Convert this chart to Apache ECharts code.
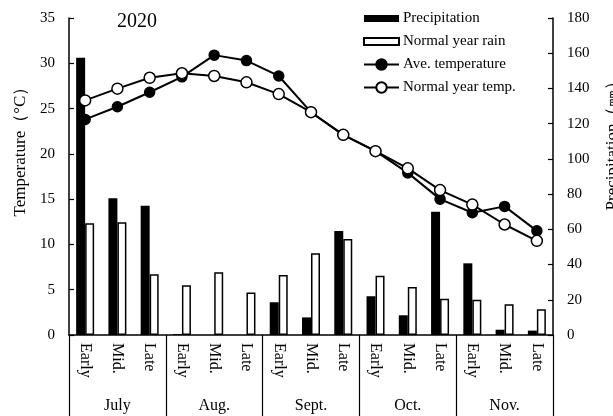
<!DOCTYPE html>
<html>
<head>
<meta charset="utf-8">
<script src="https://cdn.jsdelivr.net/npm/echarts@6/dist/echarts.min.js"></script>
<style>html,body{margin:0;padding:0;background:#fff}#c{width:613px;height:416px}</style>
</head>
<body>
<div id="c"></div>
<script>
const periods = ['Early','Mid.','Late','Early','Mid.','Late','Early','Mid.','Late','Early','Mid.','Late','Early','Mid.','Late'];
const months = ['July','Aug.','Sept.','Oct.','Nov.'];
const precipitation = [157.5, 77.6, 73.4, 0.5, 0, 0, 18.6, 10.0, 59.1, 22.0, 11.2, 70.0, 40.7, 3.0, 2.5];
const normalRain = [63.4, 64.0, 34.5, 28.2, 35.6, 24.2, 34.1, 46.4, 54.5, 33.7, 27.3, 20.6, 20.0, 17.4, 14.6];
const aveTemp = [23.8, 25.2, 26.8, 28.5, 30.9, 30.3, 28.6, 24.6, 22.1, 20.3, 17.9, 15.0, 13.5, 14.2, 11.5];
const normalTemp = [25.9, 27.2, 28.4, 28.9, 28.6, 27.9, 26.6, 24.6, 22.1, 20.3, 18.4, 16.0, 14.4, 12.2, 10.4];

const FONT = "'Liberation Serif', 'Times New Roman', serif";
const chart = echarts.init(document.getElementById('c'), null, {renderer: 'canvas'});
chart.setOption({
  backgroundColor: '#fff',
  animation: false,
  textStyle: {fontFamily: FONT, color: '#000'},
  title: {
    text: '2020', left: 112, top: 7,
    textStyle: {fontFamily: FONT, fontSize: 20, fontWeight: 'normal', color: '#000'}
  },
  legend: {
    orient: 'vertical', left: 358, top: 6, itemWidth: 35, itemHeight: 13, itemGap: 8,
    textStyle: {fontFamily: FONT, fontSize: 15, color: '#000', padding: [0,0,0,-1]},
    data: [
      {name: 'Precipitation', icon: 'path://M0,0H35V7H0Z'},
      {name: 'Normal year rain', icon: 'path://M0,0H35V7H0Z'},
      {name: 'Ave. temperature'},
      {name: 'Normal year temp.'}
    ]
  },
  grid: {left: 69, right: 60, top: 18, bottom: 81, containLabel: false, outerBoundsMode: 'none'},
  xAxis: [
    {
      type: 'category', data: periods, position: 'bottom',
      axisLine: {show: true, lineStyle: {color: '#000', width: 1.5}},
      axisTick: {show: false},
      axisLabel: {rotate: -90, margin: 8, fontFamily: FONT, fontSize: 16, color: '#000', interval: 0},
      splitLine: {show: false}
    },
    {
      type: 'category', data: months, position: 'bottom', offset: 0,
      axisLine: {show: false},
      axisTick: {show: true, length: 90, lineStyle: {color: '#000', width: 1.2}},
      axisLabel: {margin: 63, fontFamily: FONT, fontSize: 16, color: '#000', interval: 0},
      splitLine: {show: false}
    }
  ],
  yAxis: [
    {
      type: 'value', min: 0, max: 35, interval: 5, position: 'left',
      name: 'Temperature（°C）', nameLocation: 'middle', nameRotate: 90, nameGap: 40,
      nameTextStyle: {fontFamily: FONT, fontSize: 17, color: '#000', padding: [0, 0, 0, 58]},
      axisLine: {show: true, lineStyle: {color: '#000', width: 1.5}},
      axisTick: {show: true, inside: true, length: 5, lineStyle: {color: '#000', width: 1.2}},
      axisLabel: {margin: 14, fontFamily: FONT, fontSize: 15, color: '#000'},
      splitLine: {show: false}
    },
    {
      type: 'value', min: 0, max: 180, interval: 20, position: 'right',
      name: 'Precipitation（㎜）', nameLocation: 'middle', nameRotate: 90, nameGap: 51,
      nameTextStyle: {fontFamily: FONT, fontSize: 17, color: '#000', padding: [0, 0, 0, 70]},
      axisLine: {show: true, lineStyle: {color: '#000', width: 1.5}},
      axisTick: {show: true, inside: true, length: 5, lineStyle: {color: '#000', width: 1.2}},
      axisLabel: {margin: 14, fontFamily: FONT, fontSize: 15, color: '#000'},
      splitLine: {show: false}
    }
  ],
  series: [
    {
      name: 'Precipitation', type: 'bar', xAxisIndex: 0, yAxisIndex: 1, data: precipitation,
      barWidth: 9, barGap: '0%',
      itemStyle: {color: '#000', borderColor: '#000', borderWidth: 0}
    },
    {
      name: 'Normal year rain', type: 'bar', xAxisIndex: 0, yAxisIndex: 1, data: normalRain,
      barWidth: 9, barGap: '0%',
      itemStyle: {color: '#fff', borderColor: '#000', borderWidth: 1.5}
    },
    {
      name: 'Ave. temperature', type: 'line', xAxisIndex: 0, yAxisIndex: 0, data: aveTemp,
      symbol: 'circle', symbolSize: 10, z: 3,
      lineStyle: {color: '#000', width: 2},
      itemStyle: {color: '#000', borderColor: '#000', borderWidth: 1.5}
    },
    {
      name: 'Normal year temp.', type: 'line', xAxisIndex: 0, yAxisIndex: 0, data: normalTemp,
      symbol: 'circle', symbolSize: 11, z: 4,
      lineStyle: {color: '#000', width: 2},
      itemStyle: {color: '#fff', borderColor: '#000', borderWidth: 1.5}
    }
  ]
});
</script>
</body>
</html>
